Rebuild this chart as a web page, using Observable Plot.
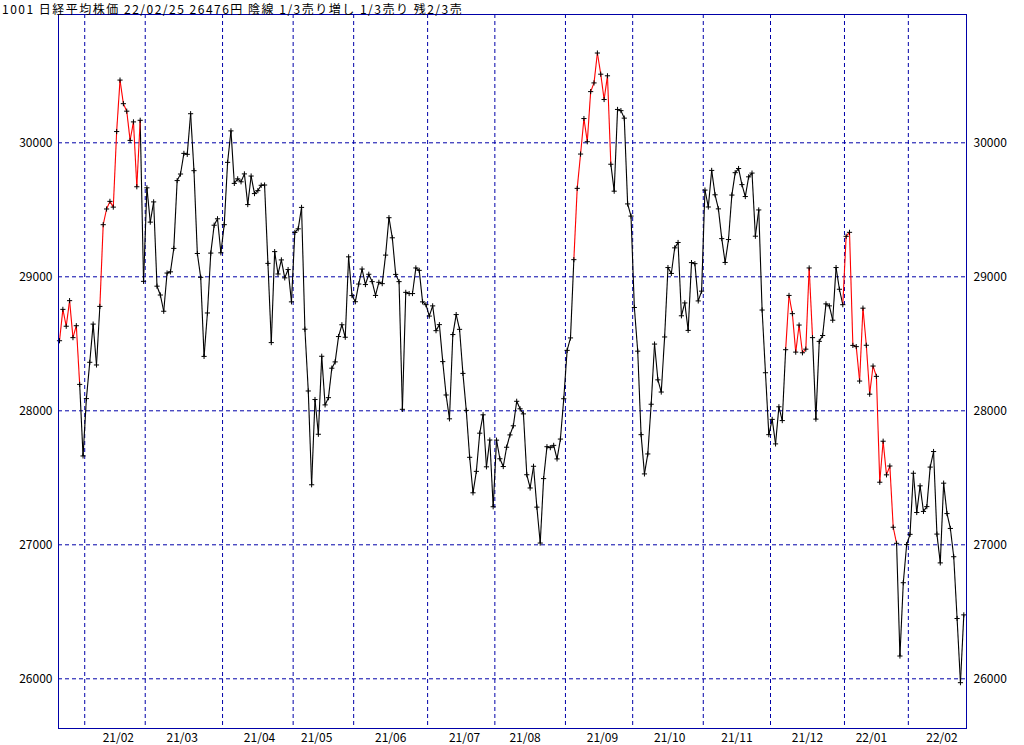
<!DOCTYPE html>
<html><head><meta charset="utf-8">
<script src="https://cdn.jsdelivr.net/npm/d3@7"></script>
<script src="https://cdn.jsdelivr.net/npm/@observablehq/plot@0.6"></script>
<style>
body{margin:0;background:#fff;}
#wrap{position:relative;width:1024px;height:745px;overflow:hidden;}
#title{position:absolute;left:2px;top:0px;font-family:"Noto Sans CJK JP";font-size:12px;line-height:17.5px;letter-spacing:1.5px;color:#000;white-space:nowrap;z-index:2;}
#chart{position:absolute;left:0;top:0;}
</style></head><body>
<div id="wrap"><div id="title">1001 日経平均株価 22/02/25 26476円 陰線 1/3売り増し 1/3売り 残2/3売</div><div id="chart"></div></div>
<script>
const dates = [
"2021-01-20","2021-01-21","2021-01-22","2021-01-25","2021-01-26","2021-01-27","2021-01-28","2021-01-29",
"2021-02-01","2021-02-02","2021-02-03","2021-02-04","2021-02-05","2021-02-08","2021-02-09","2021-02-10","2021-02-12","2021-02-15","2021-02-16","2021-02-17","2021-02-18","2021-02-19","2021-02-22","2021-02-24","2021-02-25","2021-02-26",
"2021-03-01","2021-03-02","2021-03-03","2021-03-04","2021-03-05","2021-03-08","2021-03-09","2021-03-10","2021-03-11","2021-03-12","2021-03-15","2021-03-16","2021-03-17","2021-03-18","2021-03-19","2021-03-22","2021-03-23","2021-03-24","2021-03-25","2021-03-26","2021-03-29","2021-03-30","2021-03-31",
"2021-04-01","2021-04-02","2021-04-05","2021-04-06","2021-04-07","2021-04-08","2021-04-09","2021-04-12","2021-04-13","2021-04-14","2021-04-15","2021-04-16","2021-04-19","2021-04-20","2021-04-21","2021-04-22","2021-04-23","2021-04-26","2021-04-27","2021-04-28","2021-04-30",
"2021-05-06","2021-05-07","2021-05-10","2021-05-11","2021-05-12","2021-05-13","2021-05-14","2021-05-17","2021-05-18","2021-05-19","2021-05-20","2021-05-21","2021-05-24","2021-05-25","2021-05-26","2021-05-27","2021-05-28","2021-05-31",
"2021-06-01","2021-06-02","2021-06-03","2021-06-04","2021-06-07","2021-06-08","2021-06-09","2021-06-10","2021-06-11","2021-06-14","2021-06-15","2021-06-16","2021-06-17","2021-06-18","2021-06-21","2021-06-22","2021-06-23","2021-06-24","2021-06-25","2021-06-28","2021-06-29","2021-06-30",
"2021-07-01","2021-07-02","2021-07-05","2021-07-06","2021-07-07","2021-07-08","2021-07-09","2021-07-12","2021-07-13","2021-07-14","2021-07-15","2021-07-16","2021-07-19","2021-07-20","2021-07-21","2021-07-26","2021-07-27","2021-07-28","2021-07-29","2021-07-30",
"2021-08-02","2021-08-03","2021-08-04","2021-08-05","2021-08-06","2021-08-10","2021-08-11","2021-08-12","2021-08-13","2021-08-16","2021-08-17","2021-08-18","2021-08-19","2021-08-20","2021-08-23","2021-08-24","2021-08-25","2021-08-26","2021-08-27","2021-08-30","2021-08-31",
"2021-09-01","2021-09-02","2021-09-03","2021-09-06","2021-09-07","2021-09-08","2021-09-09","2021-09-10","2021-09-13","2021-09-14","2021-09-15","2021-09-16","2021-09-17","2021-09-21","2021-09-22","2021-09-24","2021-09-27","2021-09-28","2021-09-29","2021-09-30",
"2021-10-01","2021-10-04","2021-10-05","2021-10-06","2021-10-07","2021-10-08","2021-10-11","2021-10-12","2021-10-13","2021-10-14","2021-10-15","2021-10-18","2021-10-19","2021-10-20","2021-10-21","2021-10-22","2021-10-25","2021-10-26","2021-10-27","2021-10-28","2021-10-29",
"2021-11-01","2021-11-02","2021-11-04","2021-11-05","2021-11-08","2021-11-09","2021-11-10","2021-11-11","2021-11-12","2021-11-15","2021-11-16","2021-11-17","2021-11-18","2021-11-19","2021-11-22","2021-11-24","2021-11-25","2021-11-26","2021-11-29","2021-11-30",
"2021-12-01","2021-12-02","2021-12-03","2021-12-06","2021-12-07","2021-12-08","2021-12-09","2021-12-10","2021-12-13","2021-12-14","2021-12-15","2021-12-16","2021-12-17","2021-12-20","2021-12-21","2021-12-22","2021-12-23","2021-12-24","2021-12-27","2021-12-28","2021-12-29","2021-12-30",
"2022-01-04","2022-01-05","2022-01-06","2022-01-07","2022-01-11","2022-01-12","2022-01-13","2022-01-14","2022-01-17","2022-01-18","2022-01-19","2022-01-20","2022-01-21","2022-01-24","2022-01-25","2022-01-26","2022-01-27","2022-01-28","2022-01-31",
"2022-02-01","2022-02-02","2022-02-03","2022-02-04","2022-02-07","2022-02-08","2022-02-09","2022-02-10","2022-02-14","2022-02-15","2022-02-16","2022-02-17","2022-02-18","2022-02-21","2022-02-22","2022-02-24","2022-02-25"
];
const closes = [
28523,28757,28631,28822,28546,28635,28197,27663,
28091,28362,28647,28342,28779,29389,29506,29563,29520,30084,30468,30292,30236,30018,30156,29672,30168,28966,
29664,29408,29559,28930,28864,28743,29028,29037,29212,29718,29767,29921,29914,30217,29792,29174,28996,28406,28730,29177,29385,29433,29179,
29389,29854,30089,29697,29731,29709,29768,29539,29752,29621,29643,29683,29685,29100,28509,29188,29021,29126,28992,29054,28813,
29331,29358,29518,28609,28148,27448,28084,27825,28407,28044,28098,28318,28365,28554,28642,28549,29149,28860,
28814,28946,29058,28942,29019,28964,28861,28959,28949,29162,29441,29291,29018,28964,28011,28884,28875,28875,29066,29048,28813,28792,
28707,28783,28598,28643,28367,28118,27940,28569,28718,28608,28279,28003,27653,27388,27548,27833,27970,27582,27782,27284,
27781,27642,27584,27728,27820,27888,28071,28015,27977,27523,27424,27586,27281,27013,27494,27732,27725,27742,27641,27789,28090,
28451,28544,29128,29660,29916,30181,30008,30382,30447,30670,30512,30323,30500,29840,29639,30249,30240,30184,29544,29453,
28771,28445,27822,27529,27678,28049,28498,28231,28140,28551,29069,29025,29216,29256,28709,28805,28600,29106,29098,28820,28893,
29647,29521,29794,29612,29507,29285,29107,29278,29610,29777,29808,29688,29599,29746,29774,29303,29499,28752,28284,27822,
27936,27753,28030,27927,28456,28861,28725,28438,28640,28433,28460,29066,28546,27938,28518,28562,28798,28783,28676,29069,28907,28792,
29302,29332,28488,28479,28222,28766,28489,28124,28334,28257,27467,27773,27522,27588,27131,27011,26170,26717,27002,
27078,27534,27241,27440,27249,27285,27580,27696,27080,26865,27460,27233,27122,26911,26450,25971,26477
];
// segments that start on these dates (inclusive ranges) are drawn red
const redStarts = ["2021-01-20","2021-02-05","2021-09-03","2021-12-07","2021-12-30"];
const redEnds   = ["2021-01-27","2021-02-24","2021-09-17","2021-12-16","2022-01-25"];
const yTicks = [26000, 27000, 28000, 29000, 30000];
const monthLabels = ["21/02","21/03","21/04","21/05","21/06","21/07","21/08","21/09","21/10","21/11","21/12","22/01","22/02"];

const gridColor = "#0000a8";
const pts = dates.map((d, i) => ({i, d, v: closes[i]}));
const isRed = d => redStarts.some((s, k) => d >= s && d <= redEnds[k]);
const segs = d3.range(dates.length - 1).map(i => ({x1: i, y1: closes[i], x2: i + 1, y2: closes[i + 1], red: isRed(dates[i])}));
const bounds = [];
for (let i = 1; i < dates.length; i++) if (dates[i].slice(0, 7) !== dates[i - 1].slice(0, 7)) bounds.push(i - 0.5);
const labels = monthLabels.map(l => {
  const m = "20" + l.slice(0, 2) + "-" + l.slice(3, 5);
  let last = -1;
  dates.forEach((d, i) => { if (d.slice(0, 7) === m && +d.slice(8, 10) <= 15) last = i; });
  return {label: l, pos: last + 0.5};
});

const chart = Plot.plot({
  width: 1024, height: 745,
  marginTop: 14, marginBottom: 17, marginLeft: 58, marginRight: 58,
  x: {domain: [-0.3, 269.8], axis: null},
  y: {domain: [25629.1, 30957.5], axis: null},
  style: {fontFamily: "'Noto Sans CJK JP', 'DejaVu Sans'", fontSize: "12px", background: "white", color: "black", overflow: "visible"},
  marks: [
    Plot.ruleY(yTicks, {stroke: gridColor, strokeDasharray: "4,3", strokeWidth: 1}),
    Plot.ruleX(bounds, {stroke: gridColor, strokeDasharray: "4,3", strokeWidth: 1}),
    Plot.link(segs.filter(s => !s.red), {x1: "x1", y1: "y1", x2: "x2", y2: "y2", stroke: "black", strokeWidth: 1.1}),
    Plot.link(segs.filter(s => s.red), {x1: "x1", y1: "y1", x2: "x2", y2: "y2", stroke: "#ff0000", strokeWidth: 1.1}),
    Plot.dot(pts, {x: "i", y: "v", symbol: "plus", r: 1.8, stroke: "black", strokeWidth: 1}),
    Plot.frame({stroke: gridColor, strokeWidth: 1}),
    Plot.text(yTicks, {y: d => d, text: d => String(d), frameAnchor: "left", dx: -6, textAnchor: "end", fill: "black"}),
    Plot.text(yTicks, {y: d => d, text: d => String(d), frameAnchor: "right", dx: 7, textAnchor: "start", fill: "black"}),
    Plot.text(labels, {x: "pos", text: "label", frameAnchor: "bottom", dy: 10, lineAnchor: "middle", fill: "black"})
  ]
});
document.getElementById("chart").appendChild(chart);
</script>
</body></html>
